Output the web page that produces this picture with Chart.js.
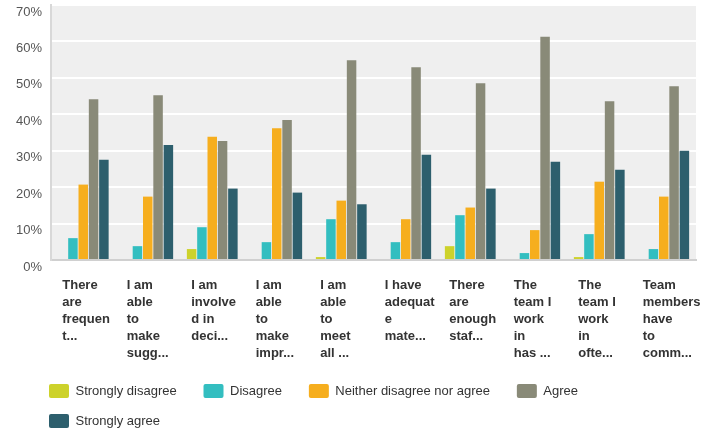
<!DOCTYPE html>
<html lang="en">
<head>
    <meta charset="UTF-8">
    <title>Survey responses</title>
    <script src="https://cdn.jsdelivr.net/npm/chart.js"></script>
    <style>
        html, body { margin: 0; padding: 0; background: #fff; }
        #wrap { width: 704px; height: 432px; }
    </style>
</head>
<body>
    <div id="wrap"><canvas id="surveyChart"></canvas></div>

    <script>
        const questions = [
            ["There", "are", "frequen", "t..."],
            ["I am", "able", "to", "make", "sugg..."],
            ["I am", "involve", "d in", "deci..."],
            ["I am", "able", "to", "make", "impr..."],
            ["I am", "able", "to", "meet", "all ..."],
            ["I have", "adequat", "e", "mate..."],
            ["There", "are", "enough", "staf..."],
            ["The", "team I", "work", "in", "has ..."],
            ["The", "team I", "work", "in", "ofte..."],
            ["Team", "members", "have", "to", "comm..."]
        ];
        const answers = ["Strongly disagree", "Disagree", "Neither disagree nor agree", "Agree", "Strongly agree"];
        const colors = ["#cdd22b", "#33bec0", "#f6ae1e", "#898a78", "#2d5f6d"];

        const stronglyDisagree = [0, 0, 3.0, 0, 0.8, 0, 3.8, 0, 0.8, 0];
        const disagree = [6.0, 3.8, 9.0, 4.9, 11.2, 4.9, 12.3, 1.9, 7.1, 3.0];
        const neither = [20.7, 17.4, 33.8, 36.2, 16.3, 11.2, 14.4, 8.2, 21.5, 17.4];
        const agree = [44.1, 45.2, 32.7, 38.4, 54.8, 52.9, 48.5, 61.3, 43.6, 47.7];
        const stronglyAgree = [27.5, 31.6, 19.6, 18.5, 15.3, 28.9, 19.6, 27.0, 24.8, 30.0];

        const yMax = 70;
        const yStep = 10;

        const seriesValues = [stronglyDisagree, disagree, neither, agree, stronglyAgree];

        // grey plot background
        const plotBg = {
            id: 'plotBg',
            beforeDraw(chart) {
                const { ctx, chartArea: a } = chart;
                ctx.save();
                ctx.fillStyle = '#efefef';
                ctx.fillRect(a.left, a.top, a.right - a.left, a.bottom - a.top);
                ctx.restore();
            }
        };

        // legend sits left aligned under the labels
        const legendShift = {
            id: 'legendShift',
            afterLayout(chart) {
                chart.legend.left += 29;
                chart.legend.top += 6;
                chart.legend.bottom += 6;
            }
        };

        new Chart(document.getElementById('surveyChart'), {
            type: 'bar',
            data: {
                labels: questions,
                datasets: answers.map((a, i) => ({
                    label: a,
                    data: seriesValues[i],
                    backgroundColor: colors[i],
                    borderWidth: 0,
                    categoryPercentage: 0.8,
                    barPercentage: 0.92
                }))
            },
            options: {
                responsive: true,
                maintainAspectRatio: false,
                animation: false,
                layout: { padding: { left: 4, right: 8, top: 5, bottom: 0 } },
                plugins: {
                    tooltip: { enabled: false },
                    legend: {
                        position: 'bottom',
                        align: 'start',
                        labels: {
                            boxWidth: 20,
                            boxHeight: 14,
                            useBorderRadius: true,
                            borderRadius: 2,
                            padding: 16,
                            color: '#333',
                            font: { family: 'Arial, "Liberation Sans", sans-serif', size: 13 },
                            generateLabels(chart) {
                                return Chart.defaults.plugins.legend.labels.generateLabels(chart)
                                    .map(l => Object.assign(l, { text: l.text + '   ' }));
                            }
                        }
                    }
                },
                scales: {
                    x: {
                        grid: { display: false, drawTicks: false },
                        border: { color: '#d0d0d0', width: 2 },
                        ticks: {
                            autoSkip: false,
                            maxRotation: 0,
                            align: 'start',
                            labelOffset: -21,
                            padding: 17,
                            color: '#333',
                            font: { family: 'Arial, "Liberation Sans", sans-serif', size: 13, weight: 'bold', lineHeight: 1.3 }
                        },
                        afterFit(s) {
                            s.height = 102;
                            s.paddingLeft = 0;
                            s.paddingRight = 0;
                        }
                    },
                    y: {
                        min: 0,
                        max: yMax,
                        grid: { color: '#ffffff', lineWidth: 2, drawTicks: false },
                        border: { color: '#d8d8d8', width: 2 },
                        ticks: {
                            stepSize: yStep,
                            padding: 9,
                            labelOffset: 7,
                            color: '#555',
                            font: { family: 'Arial, "Liberation Sans", sans-serif', size: 13 },
                            callback: v => v + '%'
                        },
                        afterFit(s) {
                            s.width = 47;
                            s.paddingTop = 0;
                            s.paddingBottom = 0;
                        }
                    }
                }
            },
            plugins: [plotBg, legendShift]
        });
    </script>
</body>
</html>
